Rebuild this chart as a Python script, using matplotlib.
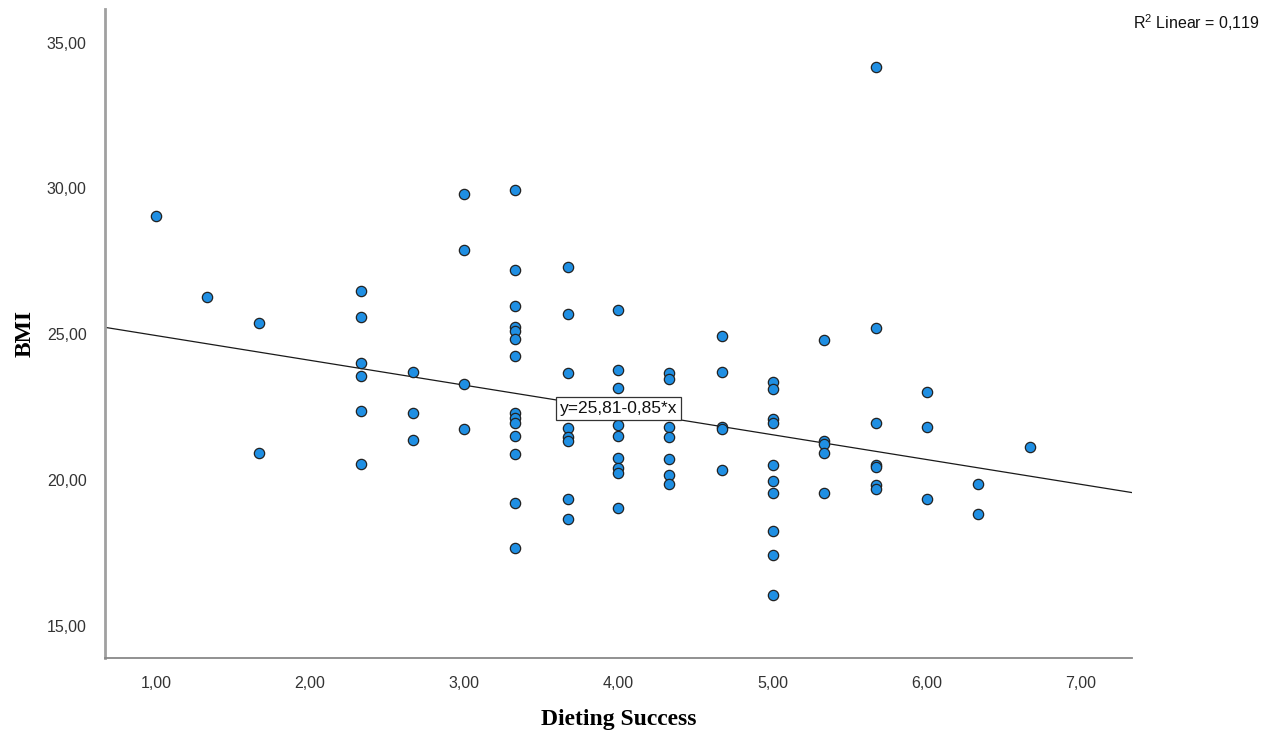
import numpy as np
import matplotlib
matplotlib.use("Agg")
import matplotlib.pyplot as plt
from matplotlib.ticker import FuncFormatter

plt.rcParams["mathtext.fontset"] = "custom"
plt.rcParams["mathtext.rm"] = "Liberation Sans"
plt.rcParams["mathtext.it"] = "Liberation Sans"

# Dieting Success levels (x) and the BMI values read at each level
success_levels = [1.00, 1.33, 1.67, 2.33, 2.67, 3.00, 3.33, 3.67, 4.00,
                  4.33, 4.67, 5.00, 5.33, 5.67, 6.00, 6.33, 6.67]
bmi_by_level = [
    [29.07],
    [26.29],
    [25.39, 20.95],
    [26.50, 25.61, 24.01, 23.58, 22.38, 20.57],
    [23.72, 22.32, 21.39],
    [29.80, 27.89, 23.29, 21.77],
    [29.96, 27.20, 25.98, 25.27, 25.10, 24.83, 24.27, 22.30, 22.13, 21.96,
     21.53, 20.91, 19.22, 17.68],
    [27.32, 25.71, 23.69, 21.79, 21.50, 21.33, 19.36, 18.68],
    [25.82, 23.78, 23.16, 21.90, 21.52, 20.76, 20.42, 20.25, 19.05],
    [23.67, 23.47, 21.84, 21.48, 20.73, 20.19, 19.87],
    [24.95, 23.72, 21.84, 21.75, 20.34],
    [23.38, 23.12, 22.11, 21.98, 20.53, 19.96, 19.56, 18.25, 17.43, 16.06],
    [24.81, 21.36, 21.25, 20.93, 19.58],
    [34.16, 25.21, 21.98, 20.53, 20.45, 19.85, 19.71],
    [23.02, 21.83, 19.36],
    [19.87, 18.86],
    [21.15],
]

# fit shown on the chart
intercept = 25.81
slope = -0.85
r_squared = 0.119

x_ticks = [1, 2, 3, 4, 5, 6, 7]
y_ticks = [15, 20, 25, 30, 35]

x = np.concatenate([[lv] * len(v) for lv, v in zip(success_levels, bmi_by_level)])
y = np.concatenate(bmi_by_level)

def comma(v, pos=None, nd=2):
    return f"{v:.{nd}f}".replace(".", ",")

fig = plt.figure(figsize=(12.73, 7.38), dpi=100)
ax = fig.add_axes([0.0822, 0.108, 0.8073, 0.8798])

xmin, xmax = 0.667, 7.333
ax.set_xlim(xmin, xmax)
ax.set_ylim(13.9, 36.15)

# regression line
xs = np.array([xmin, xmax])
ax.plot(xs, intercept + slope * xs, color="#1a1a1a", linewidth=0.9, zorder=2)

ax.scatter(x, y, s=55, color="#1f8fe3", edgecolor="#222222", linewidth=0.9, zorder=3)

ax.text(4.0, 22.45, "y=" + comma(intercept) + "-" + comma(-slope) + "*x",
        ha="center", va="center", fontsize=12.5, family="Liberation Sans",
        color="#111111", zorder=4,
        bbox=dict(boxstyle="square,pad=0.22", facecolor="white",
                  edgecolor="#333333", linewidth=0.9))

ax.set_xticks(x_ticks)
ax.set_yticks(y_ticks)
ax.xaxis.set_major_formatter(FuncFormatter(comma))
ax.yaxis.set_major_formatter(FuncFormatter(comma))
ax.tick_params(length=0, labelsize=11.5, colors="#333333", pad=13)
for lbl in ax.get_xticklabels() + ax.get_yticklabels():
    lbl.set_family("Liberation Sans")

for side in ["top", "right"]:
    ax.spines[side].set_visible(False)
ax.spines["left"].set_color("#a0a0a0")
ax.spines["left"].set_linewidth(2.0)
ax.spines["bottom"].set_color("#888888")
ax.spines["bottom"].set_linewidth(1.3)

ax.set_xlabel("Dieting Success", family="Liberation Serif", fontweight="bold",
              fontsize=17, va="center")
ax.xaxis.set_label_coords(0.5, -0.0935)
ax.set_ylabel("BMI", family="Liberation Serif", fontweight="bold",
              fontsize=17, va="center")
ax.yaxis.set_label_coords(-0.0776, 0.5)

fig.text(0.8898, 1 - 22.7 / 738, r"R$^{2}$ Linear = " + comma(r_squared, nd=3),
         ha="left", va="center", fontsize=11.5, family="Liberation Sans",
         color="#111111")

fig.savefig("out.png", dpi=100)
